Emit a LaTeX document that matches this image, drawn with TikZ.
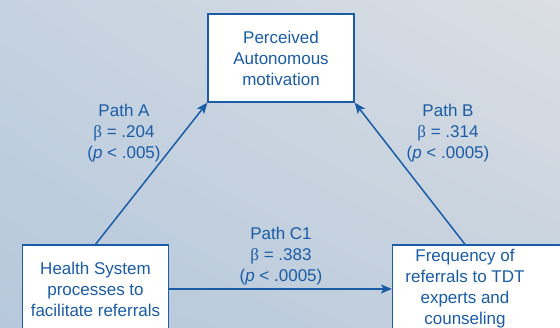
\documentclass[tikz,border=0pt]{standalone}
\usepackage{fontspec}
\setmainfont{Liberation Sans}
\newfontfamily\betafont{Liberation Serif}
\usetikzlibrary{arrows.meta,shadings}
\definecolor{pathblue}{RGB}{26,92,166}
\definecolor{bgUL}{RGB}{197,210,224}
\definecolor{bgUR}{RGB}{219,223,228}
\definecolor{bgLL}{RGB}{182,200,220}
\definecolor{bgLR}{RGB}{197,209,221}

\begin{document}
\begin{tikzpicture}[x=1pt,y=1pt,
    box/.style={draw=pathblue,line width=1.3pt,fill=white,minimum width=146pt,minimum height=88pt,inner sep=0pt},
    txt/.style={text=pathblue,font=\fontsize{17}{21}\selectfont,align=center},
    link/.style={draw=pathblue,line width=1.5pt,-{Stealth[length=11pt,width=9pt,inset=2.5pt]}}]
    \clip(0,0)rectangle(560,328);
    \shade[upper left=bgUL,upper right=bgUR,lower left=bgLL,lower right=bgLR](0,0)rectangle(560,328);

    \node[box,txt](auto)at(281,270){Perceived\\Autonomous\\motivation};
    \node[box,txt](health)at(95.5,39){Health System\\processes to\\facilitate referrals};
    \node[box,minimum width=180pt,anchor=west](freq)at(392,39){};
    \node[txt](freqtext)at(465,39){Frequency of\\referrals to TDT\\experts and\\counseling};

    \draw[link](health.north)--(auto.south west);
    \draw[link](freqtext|-freq.north)--(auto.south east);
    \draw[link](health.east)--(freq.west);

    \node[txt](pathA)at(124,195){Path A\\{\betafont β} = .204\\(\textit{p} < .005)};
    \node[txt](pathB)at(448,195){Path B\\{\betafont β} = .314\\(\textit{p} < .0005)};
    \node[txt](pathC)at(281,72){Path C1\\{\betafont β} = .383\\(\textit{p} < .0005)};
\end{tikzpicture}
\end{document}
